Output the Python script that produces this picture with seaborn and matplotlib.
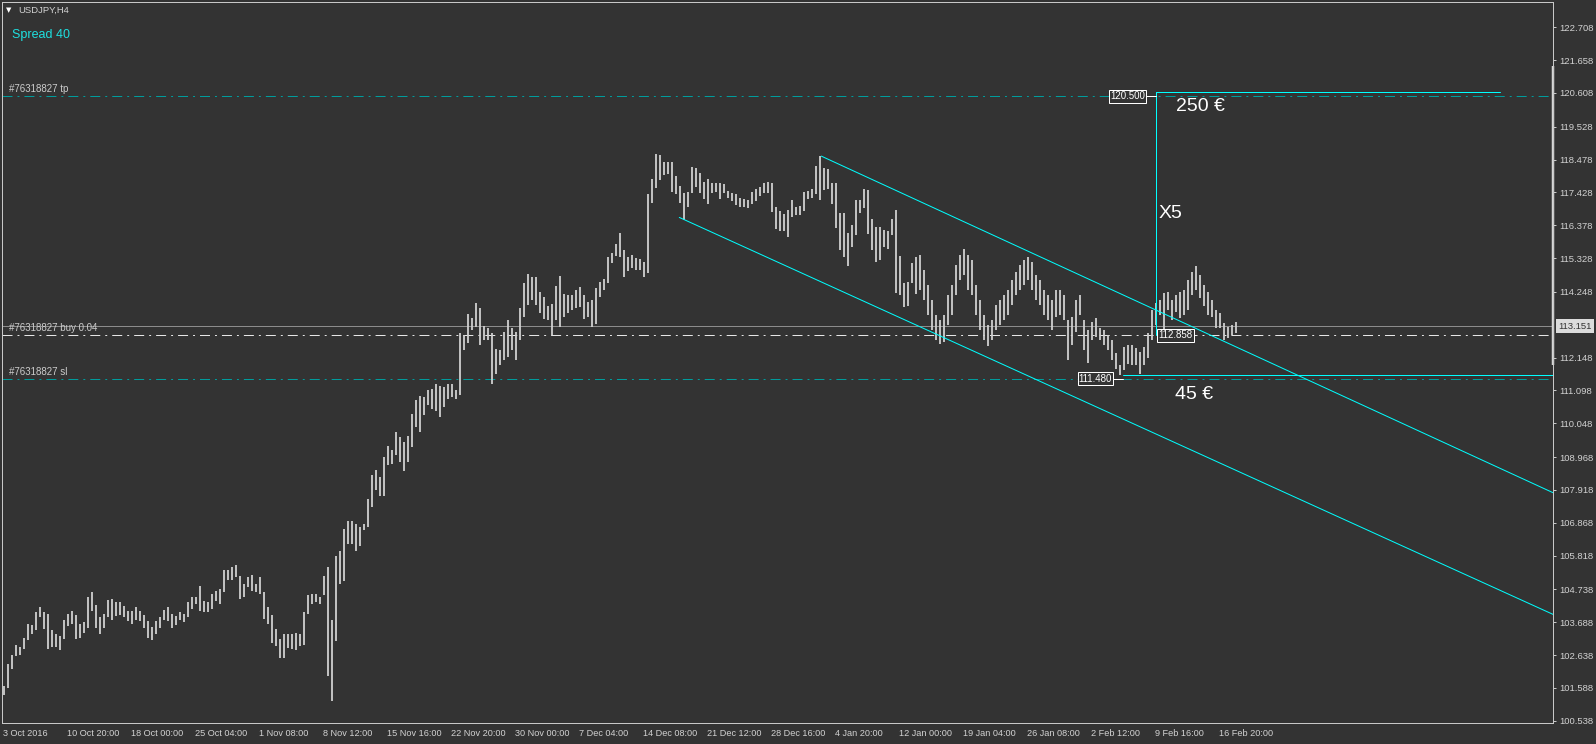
import matplotlib
matplotlib.use("Agg")
import matplotlib.pyplot as plt
import matplotlib.transforms as mtransforms
import numpy as np
import pandas as pd
import seaborn as sns

# USDJPY H4, two H4 bars merged per entry (high / low), oldest first
highs = [
    101.66, 102.36, 102.65, 102.97, 102.91, 103.20, 103.64, 103.61, 104.03, 104.16,
    104.00, 103.96, 103.45, 103.32, 103.26, 103.77, 103.96, 104.06, 103.93, 103.64,
    103.68, 104.48, 104.64, 104.25, 103.84, 103.96, 104.41, 104.44, 104.35, 104.32,
    104.22, 104.06, 104.06, 104.16, 104.06, 103.93, 103.74, 103.55, 103.74, 103.87,
    104.09, 104.19, 103.96, 103.90, 104.00, 103.96, 104.32, 104.48, 104.48, 104.86,
    104.38, 104.35, 104.60, 104.70, 104.76, 105.37, 105.37, 105.44, 105.53, 105.18,
    104.92, 105.12, 105.21, 104.92, 105.12, 104.64, 104.16, 103.93, 103.48, 103.16,
    103.32, 103.32, 103.32, 103.36, 103.32, 104.03, 104.57, 104.60, 104.60, 104.48,
    105.18, 105.47, 103.77, 105.79, 105.95, 106.68, 106.94, 106.94, 106.84, 106.72,
    106.84, 107.64, 108.41, 108.54, 108.32, 108.96, 109.31, 109.21, 109.76, 109.60,
    109.44, 109.63, 110.33, 110.78, 110.91, 110.88, 111.10, 111.16, 111.32, 111.23,
    111.20, 111.32, 111.29, 111.10, 112.92, 112.86, 113.53, 113.40, 113.88, 113.72,
    113.15, 113.08, 112.92, 112.41, 112.38, 112.96, 113.34, 113.08, 112.96, 113.72,
    114.52, 114.81, 114.72, 114.72, 114.24, 114.08, 113.79, 113.85, 114.43, 114.75,
    114.17, 114.14, 114.14, 114.30, 114.40, 114.14, 113.92, 113.98, 114.36, 114.56,
    114.65, 115.36, 115.48, 115.77, 116.12, 115.58, 115.36, 115.42, 115.32, 115.29,
    115.20, 117.37, 117.85, 118.65, 118.62, 118.40, 118.40, 118.40, 117.95, 117.63,
    117.40, 117.44, 118.24, 118.20, 118.04, 117.76, 117.85, 117.72, 117.72, 117.72,
    117.69, 117.47, 117.40, 117.37, 117.24, 117.21, 117.18, 117.44, 117.53, 117.60,
    117.72, 117.76, 117.72, 116.96, 116.83, 116.73, 116.86, 117.18, 116.96, 116.99,
    117.44, 117.47, 117.53, 118.27, 118.59, 118.20, 118.17, 117.72, 117.72, 116.76,
    116.76, 116.12, 116.38, 117.18, 117.18, 117.53, 117.50, 116.57, 116.32, 116.32,
    116.22, 116.19, 116.57, 116.86, 115.39, 114.52, 114.56, 115.16, 115.36, 115.42,
    114.94, 114.46, 113.98, 113.50, 113.34, 113.50, 114.14, 114.46, 115.10, 115.42,
    115.61, 115.42, 115.26, 114.46, 113.98, 113.50, 113.18, 113.34, 113.82, 113.98,
    114.14, 114.30, 114.62, 114.88, 115.10, 115.26, 115.36, 115.20, 114.78, 114.62,
    114.30, 114.14, 113.98, 114.30, 114.30, 114.14, 113.34, 113.44, 113.98, 114.14,
    113.34, 113.02, 113.28, 113.40, 113.08, 113.02, 112.86, 112.70, 112.29, 111.90,
    112.48, 112.54, 112.54, 112.44, 112.32, 112.48, 112.92, 113.66, 113.88, 113.98,
    114.20, 114.24, 113.98, 114.14, 114.24, 114.30, 114.62, 114.88, 115.07, 114.78,
    114.46, 114.24, 113.98, 113.66, 113.56, 113.24, 113.12, 113.18, 113.28,
]
lows = [
    101.37, 101.60, 102.20, 102.62, 102.65, 102.84, 103.13, 103.32, 103.45, 103.84,
    103.48, 102.84, 102.91, 102.91, 102.81, 103.16, 103.58, 103.64, 103.16, 103.20,
    103.36, 103.52, 104.06, 103.52, 103.32, 103.52, 103.84, 103.77, 103.90, 103.93,
    103.87, 103.74, 103.64, 103.77, 103.74, 103.52, 103.20, 103.13, 103.32, 103.52,
    103.77, 103.74, 103.52, 103.61, 103.77, 103.68, 103.84, 104.12, 104.28, 104.06,
    104.03, 104.00, 104.12, 104.38, 104.28, 104.64, 105.05, 105.05, 105.12, 104.44,
    104.48, 104.80, 104.70, 104.64, 104.60, 103.80, 103.64, 103.04, 102.94, 102.56,
    102.56, 102.88, 102.84, 102.81, 102.94, 102.97, 103.96, 104.28, 104.35, 104.28,
    104.57, 101.98, 101.18, 103.10, 104.92, 105.02, 106.20, 106.20, 105.98, 106.14,
    106.65, 106.72, 107.36, 107.90, 107.74, 107.74, 108.70, 108.76, 109.02, 108.80,
    108.51, 108.80, 109.28, 109.92, 109.76, 110.30, 110.62, 110.49, 110.43, 110.24,
    110.56, 110.81, 110.88, 110.81, 110.94, 112.38, 112.60, 113.02, 113.12, 112.54,
    112.70, 112.70, 111.32, 111.64, 111.90, 112.06, 112.16, 112.38, 112.06, 112.70,
    113.44, 113.82, 113.98, 113.82, 113.56, 113.37, 113.34, 112.86, 113.34, 113.12,
    113.44, 113.56, 113.66, 113.72, 113.76, 113.37, 113.44, 113.12, 113.21, 114.08,
    114.30, 114.52, 115.16, 115.39, 115.36, 114.72, 114.91, 115.00, 114.94, 114.94,
    114.72, 114.84, 117.08, 117.56, 117.82, 117.98, 118.01, 117.44, 117.37, 117.08,
    116.54, 116.96, 117.40, 117.60, 117.40, 117.21, 117.05, 117.40, 117.44, 117.21,
    117.40, 117.24, 117.15, 117.02, 116.96, 116.96, 116.92, 117.05, 117.15, 117.31,
    117.40, 117.40, 116.80, 116.25, 116.19, 116.19, 116.00, 116.64, 116.70, 116.70,
    116.83, 117.21, 117.24, 117.37, 117.18, 117.50, 117.53, 117.05, 116.28, 115.58,
    115.36, 115.07, 115.68, 116.06, 116.76, 116.92, 116.09, 115.58, 115.20, 115.26,
    115.68, 115.61, 116.06, 114.20, 114.14, 113.76, 113.79, 114.52, 114.17, 114.30,
    113.98, 113.50, 113.02, 112.70, 112.57, 112.64, 113.18, 113.50, 114.14, 114.62,
    114.78, 114.30, 114.14, 113.50, 113.02, 112.70, 112.51, 112.70, 113.02, 113.18,
    113.34, 113.50, 113.82, 114.14, 114.30, 114.46, 114.62, 114.30, 113.98, 113.82,
    113.50, 113.34, 113.02, 113.44, 113.50, 113.34, 112.06, 112.54, 112.96, 113.50,
    112.38, 111.99, 112.70, 112.80, 112.70, 112.54, 112.38, 112.06, 111.80, 111.58,
    111.74, 111.96, 111.90, 111.90, 111.64, 111.90, 112.13, 112.70, 113.18, 113.50,
    112.92, 113.66, 113.34, 113.60, 113.40, 113.50, 113.66, 114.14, 114.30, 114.04,
    113.79, 113.50, 113.44, 113.08, 113.08, 112.70, 112.76, 112.86, 112.92,
]

# time labels, one every 32 H4 bars
time_labels = [
    "3 Oct 2016", "10 Oct 20:00", "18 Oct 00:00", "25 Oct 04:00", "1 Nov 08:00",
    "8 Nov 12:00", "15 Nov 16:00", "22 Nov 20:00", "30 Nov 00:00", "7 Dec 04:00",
    "14 Dec 08:00", "21 Dec 12:00", "28 Dec 16:00", "4 Jan 20:00", "12 Jan 00:00",
    "19 Jan 04:00", "26 Jan 08:00", "2 Feb 12:00", "9 Feb 16:00", "16 Feb 20:00",
]
price_ticks = [
    122.708, 121.658, 120.608, 119.528, 118.478, 117.428, 116.378, 115.328,
    114.248, 112.148, 111.098, 110.048, 108.968, 107.918, 106.868, 105.818,
    104.738, 103.688, 102.638, 101.588, 100.538,
]

bid = 113.151
order_id = "#76318827"
order_open = 112.858
order_tp = 120.500
order_sl = 111.480

# trend channel anchors (H4 bar index, price)
chan_upper = [(409.0, 118.59), (774.85, 107.83)]
chan_lower = [(338.0, 116.63), (774.85, 103.94)]

# cyan bracket drawn by hand on the chart
bracket_x = 576.2
bracket_top = 120.63
bracket_top_end = 748.4
floor_start = 559.9
floor_price = 111.58

BG = "#333333"
FG = "#d2d2d2"
AQUA = "#00ffff"
TEAL = "#009c9c"
px = 0.72  # one pixel in points
x_min, x_max = -0.65, 774.85
y_min, y_max = 100.467, 123.517

sns.set_theme(style="dark", rc={
    "axes.facecolor": BG, "figure.facecolor": BG, "axes.edgecolor": "#c8c8c8",
    "xtick.color": "#c8c8c8", "ytick.color": "#c8c8c8",
    "xtick.labelcolor": FG, "ytick.labelcolor": FG,
})
plt.rcParams["font.family"] = ["Liberation Sans", "DejaVu Sans"]
plt.rcParams["lines.scale_dashes"] = False

fig = plt.figure(figsize=(15.96, 7.44), dpi=100)
ax = fig.add_axes([2 / 1596, 1 - 723 / 744, 1551 / 1596, 721 / 744])
ax.set_xlim(x_min, x_max)
ax.set_ylim(y_min, y_max)
ax.grid(False)
for s in ax.spines.values():
    s.set_linewidth(px)
    s.set_color("#c8c8c8")

dashdot = (7.2, 3.6, 1.4, 3.6)
ax.axhline(order_tp, color=TEAL, lw=px, dashes=dashdot)
ax.axhline(order_sl, color=TEAL, lw=px, dashes=dashdot)
ax.axhline(bid, color="#8c8c8c", lw=px)
ax.axhline(order_open, color="#e6e6e6", lw=px, dashes=dashdot)

bars = pd.DataFrame({"high": highs, "low": lows})
bars["x"] = np.arange(len(bars)) * 2 + 0.5
ax.vlines(bars["x"], bars["low"], bars["high"], color="#d0d0d0", lw=1.8 * px)

for chan in (chan_upper, chan_lower):
    cx, cy = zip(*chan)
    sns.lineplot(x=list(cx), y=list(cy), ax=ax, color=AQUA, lw=px,
                 estimator=None, sort=False)

ax.plot([bracket_x, bracket_x], [order_open, bracket_top], color=AQUA, lw=px)
ax.plot([bracket_x, bracket_top_end], [bracket_top, bracket_top], color=AQUA, lw=px)
ax.plot([floor_start, x_max], [floor_price, floor_price], color=AQUA, lw=px)

# price tags with connectors
ax.plot([571.4, bracket_x], [order_tp, order_tp], color="white", lw=px)
ax.plot([555.0, floor_start], [order_sl, order_sl], color="white", lw=px)
tag = dict(boxstyle="square,pad=0.12", fc=BG, ec="white", lw=px)
ax.text(570.8, order_tp, f"{order_tp:.3f}", ha="right", va="center",
        fontsize=7, color="white", bbox=tag)
ax.text(554.4, order_sl, f"{order_sl:.3f}", ha="right", va="center",
        fontsize=7, color="white", bbox=tag)
ax.text(577.6, order_open, f"{order_open:.3f}", ha="left", va="center",
        fontsize=7, color="white", bbox=tag)

ax.text(586.4, 120.19, "250 €", fontsize=14, color="white", va="center")
ax.text(577.5, 116.75, "X5", fontsize=14, color="white", va="center")
ax.text(585.9, 110.96, "45 €", fontsize=14, color="white", va="center")

# order line captions
ytrans = mtransforms.blended_transform_factory(ax.transAxes, ax.transData)
for price, txt in [(order_tp, "tp"), (order_open, "buy 0.04"), (order_sl, "sl")]:
    ax.annotate(f"{order_id} {txt}", xy=(0.0045, price), xycoords=ytrans,
                xytext=(0, 2), textcoords="offset pixels", va="bottom",
                fontsize=7, color="#cccccc")

ax.text(0.0064, 0.954, "Spread 40", transform=ax.transAxes, fontsize=9,
        color="#1ee0e0", va="center")
ax.text(0.0028, 0.9885, "▼", transform=ax.transAxes, fontsize=5,
        color="white", va="center", family="DejaVu Sans")
ax.text(0.0103, 0.9885, "USDJPY,H4", transform=ax.transAxes, fontsize=6.8,
        color=FG, va="center")

# right price scale
ax.yaxis.tick_right()
ax.set_yticks(price_ticks)
ax.set_yticklabels([f"{v:.3f}" for v in price_ticks])
ax.tick_params(axis="y", direction="out", length=2.2, width=px, pad=2.2,
               labelsize=6.8)
ax.plot([1, 1], [121.47, 111.91], transform=ytrans, color="#d6d6d6",
        lw=2.5 * px, clip_on=False, solid_capstyle="butt")
ax.annotate(f"{bid:.3f}", xy=(1, bid), xycoords=ytrans, xytext=(5, 0),
            textcoords="offset pixels", ha="left", va="center", fontsize=6.8,
            color=BG, annotation_clip=False,
            bbox=dict(boxstyle="square,pad=0.25", fc="#dcdcdc", ec="none"))

# bottom time scale
ax.set_xticks(np.arange(len(time_labels)) * 32)
ax.set_xticklabels(time_labels, ha="left")
ax.tick_params(axis="x", direction="out", length=3, width=px, pad=1.5,
               labelsize=6.6)
ax.set_xlabel("")
ax.set_ylabel("")

fig.savefig("out.png", dpi=100, facecolor=BG)
